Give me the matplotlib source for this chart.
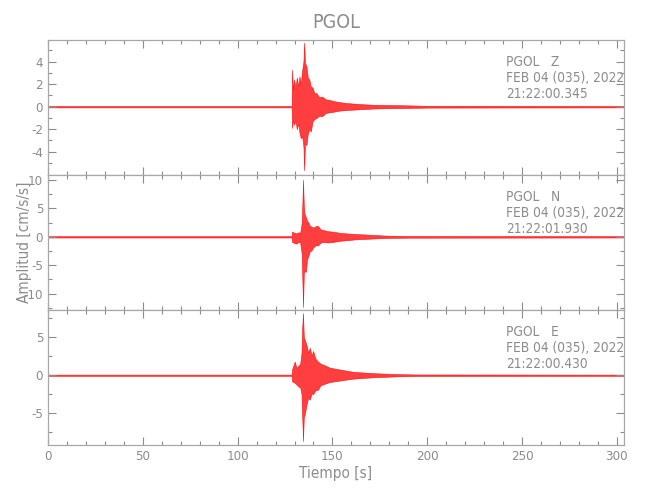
'''Three component accelerogram of station PGOL'''

import matplotlib
matplotlib.use('Agg')
import matplotlib.pyplot as plt
from matplotlib.ticker import MultipleLocator, FixedLocator

# envelope of each trace (time [s], upper, lower [cm/s/s])
t_z = [0, 128.5, 128.7, 129.2, 129.8, 130.5, 131.2, 132.0, 132.6, 133.3, 134.0,
       134.7, 135.1, 135.5, 136.3, 137.0, 137.8, 138.6, 139.5, 140.5, 141.6,
       143.0, 144.5, 146.5, 148.5, 150.5, 153.5, 157, 161, 166, 172, 180, 190,
       200, 303.5]
up_z = [0.06, 0.06, 3.3, 1.5, 2.4, 1.6, 2.6, 1.8, 2.7, 2.0, 3.2,
        4.0, 5.7, 3.9, 3.6, 2.6, 2.4, 1.8, 1.7, 1.2, 1.2,
        0.85, 0.9, 0.65, 0.6, 0.5, 0.42, 0.33, 0.28, 0.22, 0.17, 0.15, 0.12,
        0.08, 0.06]
lo_z = [-0.06, -0.06, -1.9, -1.2, -1.6, -1.2, -2.0, -1.5, -2.3, -2.8, -2.6,
        -3.5, -5.65, -3.3, -3.4, -2.4, -2.0, -2.2, -1.3, -1.1, -1.0,
        -0.8, -0.85, -0.55, -0.5, -0.45, -0.35, -0.3, -0.26, -0.21, -0.16, -0.13, -0.11,
        -0.08, -0.06]

t_n = [0, 128.5, 128.7, 130, 131, 132, 133, 133.8, 134.1, 134.5, 134.9,
       135.3, 136.0, 136.6, 137.2, 138.0, 138.9, 140.0, 141.2, 142.4, 143.8,
       145.1, 147.5, 150.4, 154, 157.4, 162, 168, 178, 190, 303.5]
up_n = [0.12, 0.12, 0.9, 0.7, 0.6, 0.8, 0.7, 2.5, 5.3, 10.1, 5.5,
        4.0, 3.5, 2.8, 2.6, 2.0, 1.8, 1.6, 1.9, 1.9, 1.3,
        1.2, 1.0, 0.9, 0.7, 0.6, 0.5, 0.4, 0.22, 0.15, 0.12]
lo_n = [-0.12, -0.12, -0.9, -1.1, -1.2, -0.9, -1.0, -3.0, -7.0, -12.4, -6.5,
        -5.9, -6.2, -4.0, -3.5, -2.6, -2.4, -1.8, -1.5, -1.5, -1.0,
        -0.9, -1.0, -0.9, -0.7, -0.6, -0.45, -0.35, -0.2, -0.15, -0.12]

t_e = [0, 128.5, 128.7, 130.1, 131.0, 131.9, 133.0, 133.7, 134.0, 134.5, 134.9,
       135.4, 136.3, 137.2, 138.1, 139.0, 139.8, 141.0, 142.4, 143.8, 145.1,
       148.6, 153.9, 160.9, 171.5, 183.8, 195, 303.5]
up_e = [0.08, 0.08, 0.75, 1.8, 1.0, 1.2, 1.5, 3.0, 6.0, 8.2, 5.0,
        4.7, 4.0, 3.0, 3.6, 2.6, 3.2, 2.2, 1.8, 1.5, 1.4,
        1.0, 0.75, 0.45, 0.27, 0.15, 0.1, 0.08]
lo_e = [-0.08, -0.08, -0.8, -1.0, -1.2, -1.45, -1.6, -2.5, -5.0, -8.7, -5.5,
        -5.2, -3.9, -3.0, -3.2, -2.4, -2.5, -2.0, -1.9, -1.3, -1.2,
        -0.9, -0.7, -0.45, -0.27, -0.15, -0.1, -0.08]

components = ['Z', 'N', 'E']
start_times = ['21:22:00.345', '21:22:01.930', '21:22:00.430']
ylims = [(-6.07, 5.93), (-12.9, 10.9), (-9.2, 8.6)]
major_ticks = [[-4, -2, 0, 2, 4], [-10, -5, 0, 5, 10], [-5, 0, 5]]
minor_ticks = [[-5, -3, -1, 1, 3, 5], [-12.5, -7.5, -2.5, 2.5, 7.5],
               [-7.5, -2.5, 2.5, 7.5]]
traces = [(t_z, up_z, lo_z), (t_n, up_n, lo_n), (t_e, up_e, lo_e)]

gray = '#8c8c8c'
plt.rcParams['font.family'] = ['DejaVu Sans']
plt.rcParams['font.stretch'] = 'condensed'
plt.rcParams['font.weight'] = 'light'
plt.rcParams['axes.unicode_minus'] = False

fig = plt.figure(figsize=(6.5, 5), dpi=100)
left, right = 48 / 650, 623.5 / 650
top, bottom = 1 - 40 / 500, 1 - 445 / 500
h = (top - bottom) / 3

axes = []
for i in range(3):
    ax = fig.add_axes([left, top - (i + 1) * h, right - left, h])
    t, up, lo = traces[i]
    ax.fill_between(t, lo, up, facecolor='#ff2a2a', edgecolor='red',
                    lw=0.4, alpha=0.9)
    ax.set_xlim(0, 303.5)
    ax.set_ylim(*ylims[i])
    ax.yaxis.set_major_locator(FixedLocator(major_ticks[i]))
    ax.yaxis.set_minor_locator(FixedLocator(minor_ticks[i]))
    ax.xaxis.set_major_locator(MultipleLocator(50))
    ax.xaxis.set_minor_locator(MultipleLocator(10))
    ax.tick_params(which='both', direction='in', top=True, right=True,
                   colors=gray, labelcolor=gray, labelsize=9.5, width=0.8)
    ax.tick_params(which='major', length=6)
    ax.tick_params(which='minor', length=3)
    for s in ax.spines.values():
        s.set_color('#a8a8a8')
        s.set_linewidth(0.9)
    if i < 2:
        ax.tick_params(labelbottom=False)
    ax.text(0.796, 0.89, 'PGOL   %s\nFEB 04 (035), 2022\n%s' % (components[i], start_times[i]),
            transform=ax.transAxes, ha='left', va='top', fontsize=9.8,
            color=gray, linespacing=1.2)
    axes.append(ax)

axes[2].set_xlabel('Tiempo [s]', color=gray, fontsize=11, labelpad=2)
fig.text(0.038, (top + bottom) / 2, 'Amplitud [cm/s/s]', rotation=90,
         ha='center', va='center', color=gray, fontsize=11)
fig.text((left + right) / 2, 1 - 23 / 500, 'PGOL', ha='center', va='center',
         color=gray, fontsize=14)

fig.savefig('out.png', dpi=100)
